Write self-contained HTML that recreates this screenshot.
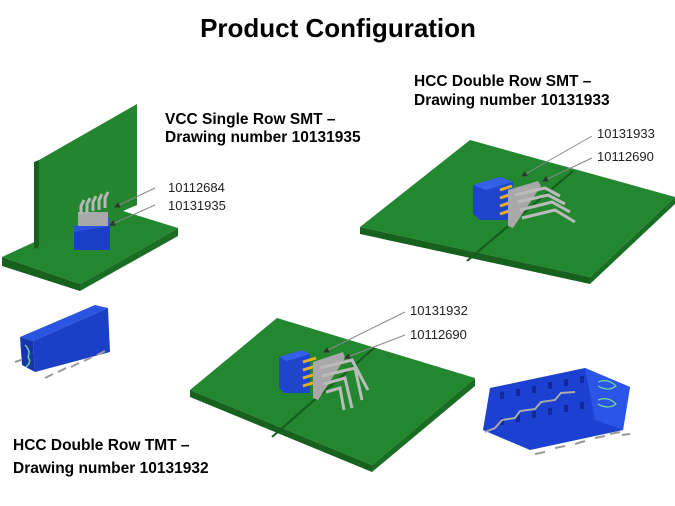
<!DOCTYPE html>
<html><head><meta charset="utf-8"><style>
html,body{margin:0;padding:0;background:#fff;}
svg{display:block;}
text{font-family:"Liberation Sans",Arial,sans-serif;}
.t{font-weight:bold;font-size:15.5px;fill:#000;}
.l{font-size:13px;fill:#222;}
</style></head><body>
<svg width="675" height="506" viewBox="0 0 675 506" xmlns="http://www.w3.org/2000/svg">
<defs>
<marker id="a" markerWidth="6" markerHeight="6" refX="5" refY="3" orient="auto"><path d="M0,0 L6,3 L0,6z" fill="#333"/></marker>
</defs>
<text x="338" y="37" text-anchor="middle" font-weight="bold" font-size="26" fill="#000">Product Configuration</text>

<!-- Left assembly -->
<polygon points="2,257 110,207 178,228 80,284" fill="#23872f"/>
<polygon points="2,257 80,284 80,291 2,266" fill="#17611f"/>
<polygon points="80,284 178,228 178,236 80,291" fill="#1a6e23"/>
<polygon points="39,160 137,104 137,205 39,247" fill="#23862f"/>
<polygon points="34,162 39,160 39,247 34,249" fill="#17601f"/>
<rect x="74" y="226" width="36" height="24" fill="#1c3fc8"/>
<polygon points="74,226 110,218 110,226 74,232" fill="#2b55e0"/>
<rect x="78" y="212" width="30" height="14" fill="#a9a9a9"/>
<g stroke="#b8b8b8" stroke-width="3" fill="none">
<path d="M81,214 L81,206 L84,200"/><path d="M87,213 L87,204 L90,198"/><path d="M93,211 L93,202 L96,196"/><path d="M99,210 L99,200 L102,194"/><path d="M105,208 L105,198 L108,192"/>
</g>
<line x1="155" y1="188" x2="115" y2="207" stroke="#888" marker-end="url(#a)"/>
<line x1="155" y1="205" x2="110" y2="225" stroke="#888" marker-end="url(#a)"/>
<text class="l" x="168" y="192">10112684</text>
<text class="l" x="168" y="210">10131935</text>
<text class="t" x="165" y="124">VCC Single Row SMT –</text>
<text class="t" x="165" y="142">Drawing number 10131935</text>

<!-- Top right assembly -->
<polygon points="360,227 470,140 675,197 590,277" fill="#23872f"/>
<polygon points="360,227 590,277 590,284 360,234" fill="#17611f"/>
<polygon points="590,277 675,197 675,204 590,284" fill="#1a6e23"/>
<line x1="573" y1="171" x2="467" y2="261" stroke="#145a1b" stroke-width="2"/>
<line x1="467" y1="261" x2="467" y2="267" stroke="#fff" stroke-width="1"/>
<polygon points="473,185 500,177 513,182 513,220 480,220 473,214" fill="#1f45cc"/>
<polygon points="473,185 500,177 513,182 486,190" fill="#3560e8"/>
<g stroke="#e0b020" stroke-width="3"><line x1="500" y1="190" x2="512" y2="186"/><line x1="500" y1="198" x2="512" y2="194"/><line x1="500" y1="206" x2="512" y2="202"/><line x1="500" y1="214" x2="512" y2="210"/></g>
<polygon points="508,190 538,181 541,186 513,228 508,226" fill="#a8a8a8"/>
<g stroke="#bbb" stroke-width="3" fill="none">
<path d="M515,195 L545,188 L560,196"/><path d="M518,202 L548,195 L565,204"/><path d="M520,210 L552,202 L570,212"/><path d="M522,218 L555,210 L575,222"/>
</g>
<line x1="592" y1="136" x2="522" y2="176" stroke="#888" marker-end="url(#a)"/>
<line x1="592" y1="158" x2="543" y2="181" stroke="#888" marker-end="url(#a)"/>
<text class="l" x="597" y="138">10131933</text>
<text class="l" x="597" y="161">10112690</text>
<text class="t" x="414" y="86">HCC Double Row SMT –</text>
<text class="t" x="414" y="105">Drawing number 10131933</text>

<!-- Bottom left small connector -->
<polygon points="20,337 95,305 108,308 33,341" fill="#2b55e0"/>
<polygon points="33,341 108,308 110,352 35,372" fill="#1b3fc6"/>
<polygon points="20,337 33,341 35,372 22,365" fill="#1835b0"/>
<g stroke="#999" stroke-width="2"><line x1="45" y1="378" x2="53" y2="374"/><line x1="58" y1="372" x2="66" y2="368"/><line x1="71" y1="367" x2="79" y2="363"/><line x1="84" y1="361" x2="92" y2="357"/><line x1="97" y1="355" x2="105" y2="351"/><line x1="15" y1="362" x2="21" y2="360"/></g>
<path d="M25,345 q6,6 3,12 q4,5 -2,10" stroke="#6fd08a" fill="none" stroke-width="1.5"/>

<!-- Bottom middle assembly -->
<polygon points="190,390 277,318 475,378 372,465" fill="#23872f"/>
<polygon points="190,390 372,465 372,472 190,397" fill="#17611f"/>
<polygon points="372,465 475,378 475,386 372,472" fill="#1a6e23"/>
<line x1="374" y1="348" x2="272" y2="437" stroke="#145a1b" stroke-width="2"/>
<line x1="272" y1="437" x2="272" y2="444" stroke="#fff" stroke-width="1"/>
<polygon points="279,357 302,350 310,354 310,393 284,393 279,388" fill="#1f45cc"/>
<polygon points="279,357 302,350 310,354 287,361" fill="#3560e8"/>
<g stroke="#e0b020" stroke-width="3"><line x1="303" y1="362" x2="316" y2="358"/><line x1="303" y1="370" x2="316" y2="366"/><line x1="303" y1="378" x2="316" y2="374"/><line x1="303" y1="386" x2="316" y2="382"/></g>
<polygon points="313,362 343,352 345,358 318,400 313,398" fill="#a8a8a8"/>
<g stroke="#bbb" stroke-width="3" fill="none">
<path d="M320,368 L352,360 L368,390"/><path d="M322,376 L355,368 L362,400"/><path d="M324,384 L345,378 L352,408"/><path d="M326,392 L340,388 L344,410"/>
</g>
<line x1="405" y1="312" x2="324" y2="352" stroke="#888" marker-end="url(#a)"/>
<line x1="405" y1="335" x2="345" y2="358" stroke="#888" marker-end="url(#a)"/>
<text class="l" x="410" y="315">10131932</text>
<text class="l" x="410" y="339">10112690</text>

<!-- Bottom right connector -->
<polygon points="490,388 585,368 630,387 623,430 530,450 483,430" fill="#1c40cf"/>
<polygon points="585,368 630,387 623,430 595,420" fill="#2a55e6"/>
<g fill="#0e2a9a">
<rect x="500" y="392" width="4" height="7"/><rect x="516" y="389" width="4" height="7"/><rect x="532" y="386" width="4" height="7"/><rect x="548" y="382" width="4" height="7"/><rect x="564" y="379" width="4" height="7"/><rect x="580" y="376" width="4" height="7"/>
<rect x="500" y="418" width="4" height="7"/><rect x="516" y="415" width="4" height="7"/><rect x="532" y="411" width="4" height="7"/><rect x="548" y="408" width="4" height="7"/><rect x="564" y="405" width="4" height="7"/><rect x="580" y="402" width="4" height="7"/>
</g>
<path d="M485,432 L495,428 L502,420 L515,418 L520,411 L535,409 L541,402 L555,400 L561,393 L575,392" stroke="#aaa" stroke-width="2" fill="none"/>
<g stroke="#999" stroke-width="2"><line x1="535" y1="454" x2="545" y2="452"/><line x1="555" y1="448" x2="565" y2="446"/><line x1="575" y1="444" x2="585" y2="441"/><line x1="595" y1="438" x2="605" y2="436"/><line x1="610" y1="434" x2="620" y2="432"/><line x1="622" y1="435" x2="630" y2="434"/></g>
<path d="M598,382 q10,-4 18,4 q-8,6 -18,0 M598,400 q10,-4 18,4 q-8,6 -18,0" stroke="#7cd8a0" fill="none" stroke-width="1.2"/>

<text class="t" x="13" y="450">HCC Double Row TMT –</text>
<text class="t" x="13" y="473">Drawing number 10131932</text>
</svg>
</body></html>
